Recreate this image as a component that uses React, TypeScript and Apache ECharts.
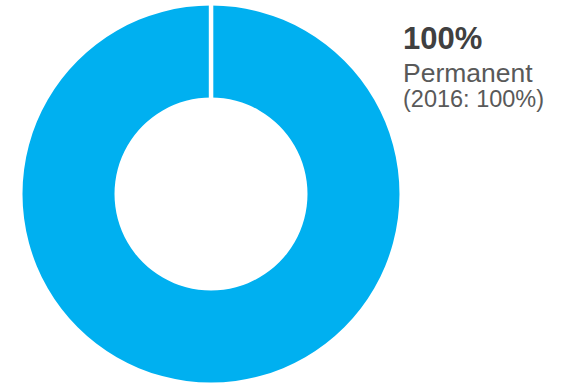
import React, { useEffect, useRef } from "react";
import * as echarts from "echarts";

const categories: string[] = ["Permanent"];
const values: number[] = [100];
const headline: string[] = ["100%"];
const labelLines: string[] = ["Permanent", "(2016: 100%)"];

const CX = 211;
const CY = 194;
const R_OUT = 188.5;
const R_IN = 96.5;

export default function App() {
  const ref = useRef<HTMLDivElement>(null);
  useEffect(() => {
    document.body.style.margin = "0";
    const chart = echarts.init(ref.current!, null, { renderer: "svg" });
    chart.setOption({
      animation: false,
      backgroundColor: "#ffffff",
      series: [
        {
          type: "pie",
          center: [CX, CY],
          radius: [R_IN, R_OUT],
          startAngle: 90,
          silent: true,
          label: { show: false },
          labelLine: { show: false },
          itemStyle: { color: "#00B0F0" },
          data: categories.map((c, i) => ({ name: c, value: values[i] })),
        },
      ],
      graphic: [
        {
          type: "rect",
          z: 100,
          shape: { x: CX - 2.2, y: 0, width: 4.5, height: CY - R_IN + 1 },
          style: { fill: "#ffffff" },
        },
        {
          type: "text",
          x: 403,
          y: 22.5,
          style: {
            text: headline[0],
            fill: "#404040",
            font: "bold 31px 'Liberation Sans', Arial, sans-serif",
            verticalAlign: "top",
          },
        },
        {
          type: "text",
          x: 403,
          y: 59,
          style: {
            text: labelLines[0],
            fill: "#595959",
            font: "26.5px 'Liberation Sans', Arial, sans-serif",
            verticalAlign: "top",
          },
        },
        {
          type: "text",
          x: 403,
          y: 87,
          style: {
            text: labelLines[1],
            fill: "#595959",
            font: "23.5px 'Liberation Sans', Arial, sans-serif",
            verticalAlign: "top",
          },
        },
      ],
    });
    return () => chart.dispose();
  }, []);
  return (
    <div
      ref={ref}
      style={{ position: "fixed", left: 0, top: 0, width: 563, height: 384 }}
    />
  );
}
